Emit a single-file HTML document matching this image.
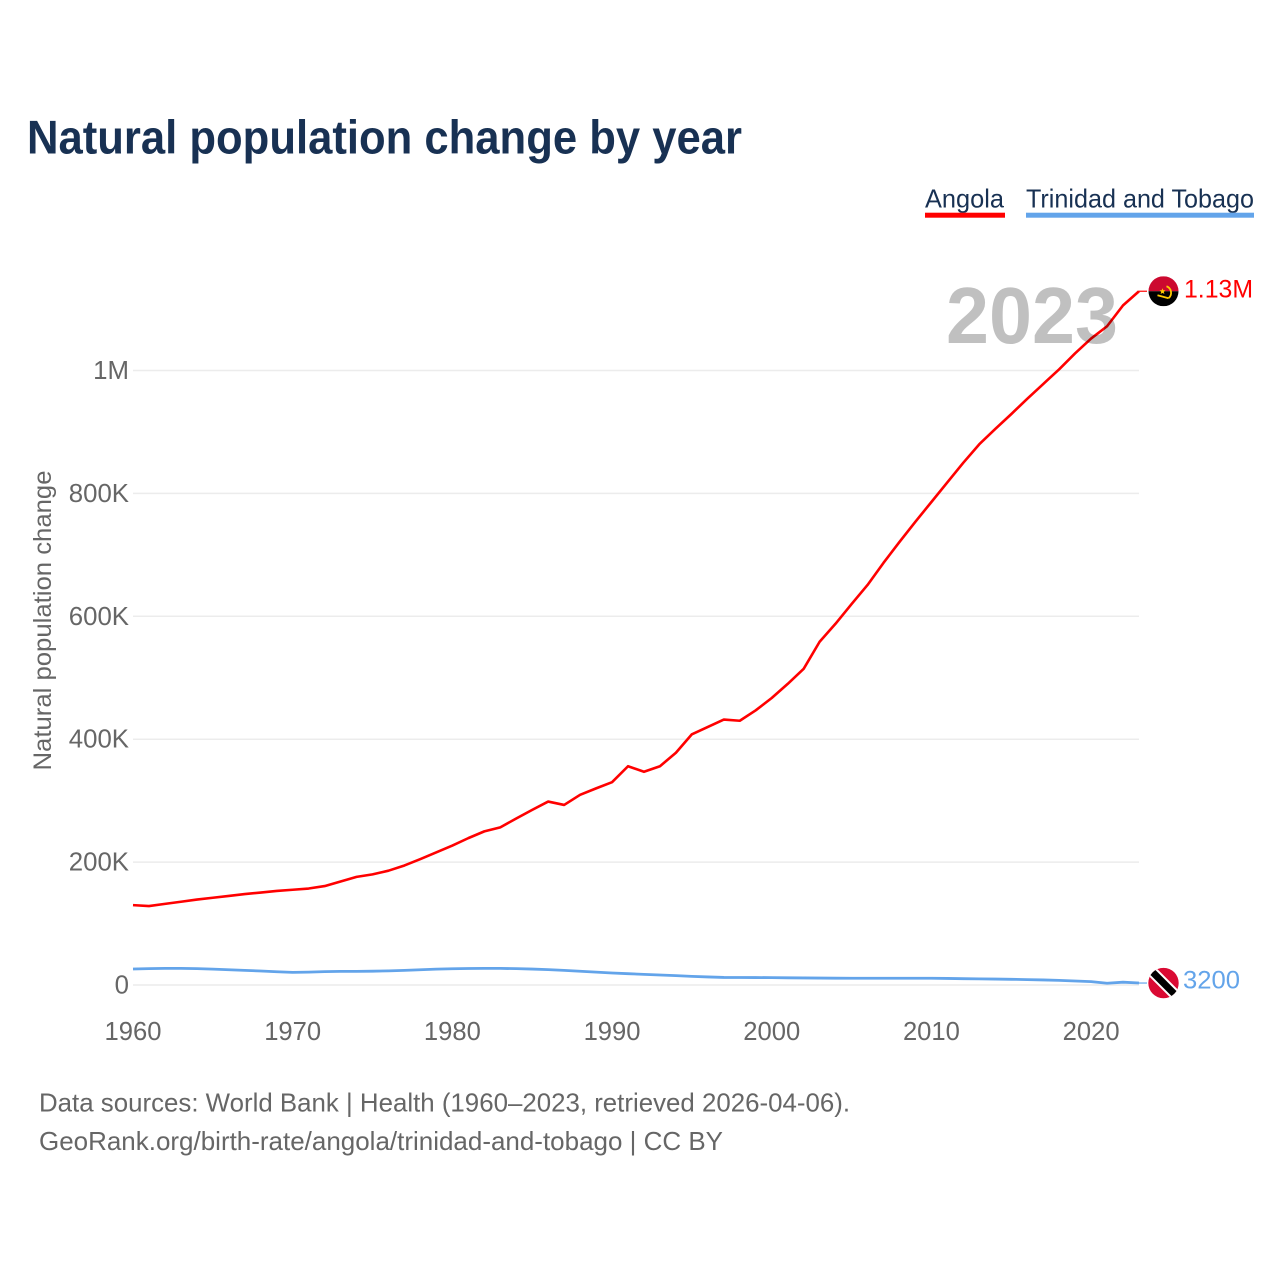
<!DOCTYPE html>
<html lang="en">
<head>
<meta charset="utf-8">
<title>Natural population change by year</title>
<style>
  html, body { margin: 0; padding: 0; background: #fff; }
  svg { display: block; font-family: "Liberation Sans", sans-serif; }
</style>
</head>
<body>
<svg id="chart" xmlns="http://www.w3.org/2000/svg" width="1280" height="1280" viewBox="0 0 1280 1280">
  <rect width="1280" height="1280" fill="#ffffff"/>
  <text x="27" y="153.5" font-size="47" font-weight="700" fill="#183153" textLength="715" lengthAdjust="spacingAndGlyphs">Natural population change by year</text>

  <g>
    <text x="925" y="207.5" font-size="26" fill="#183153" textLength="79" lengthAdjust="spacingAndGlyphs">Angola</text>
    <rect x="925" y="212.7" width="80" height="5" fill="#ff0000"/>
  </g>
  <g>
    <text x="1026" y="207.5" font-size="26" fill="#183153" textLength="228" lengthAdjust="spacingAndGlyphs">Trinidad and Tobago</text>
    <rect x="1026" y="212.7" width="228" height="5" fill="#63a4ea"/>
  </g>

  <g id="grid"></g>
  <g id="yticks"></g>
  <g id="xticks"></g>
  <text transform="translate(51 620.5) rotate(-90)" text-anchor="middle" font-size="25" fill="#666666" textLength="300" lengthAdjust="spacingAndGlyphs">Natural population change</text>

  <g id="series"></g>

  <text x="946" y="343" font-size="80" font-weight="700" fill="#000000" fill-opacity="0.247" textLength="172" lengthAdjust="spacingAndGlyphs">2023</text>

  <g id="flag-angola">
    <clipPath id="clip-ao"><circle cx="0" cy="0" r="15"/></clipPath>
    <g clip-path="url(#clip-ao)">
      <rect x="-15" y="-15" width="30" height="15" fill="#cc092f"/>
      <rect x="-15" y="0" width="30" height="15" fill="#000000"/>
    </g>
    <path d="M3 -5 A7 7 0 0 1 5 7" fill="none" stroke="#ffcb00" stroke-width="1.8"/>
    <path d="M-6 4 L5 7" fill="none" stroke="#ffcb00" stroke-width="1.8"/>
    <path d="M-1 -3 L-0.2 -1 L2 -0.8 L0.3 0.6 L0.9 2.8 L-1 1.6 L-2.9 2.8 L-2.3 0.6 L-4 -0.8 L-1.8 -1 Z" fill="#ffcb00"/>
  </g>
  <g id="flag-tt">
    <clipPath id="clip-tt"><circle cx="0" cy="0" r="15.2"/></clipPath>
    <g clip-path="url(#clip-tt)">
      <rect x="-16" y="-16" width="32" height="32" fill="#da0a33"/>
      <line x1="-16" y1="-16" x2="16" y2="16" stroke="#ffffff" stroke-width="11"/>
      <line x1="-16" y1="-16" x2="16" y2="16" stroke="#000000" stroke-width="7"/>
    </g>
  </g>

  <text id="value-angola" x="1184" font-size="25" fill="#ff0000" textLength="69" lengthAdjust="spacingAndGlyphs"></text>
  <text id="value-tt" x="1183" font-size="25" fill="#63a4ea" textLength="57" lengthAdjust="spacingAndGlyphs"></text>

  <text x="39" y="1111.7" font-size="26" fill="#666666" textLength="811" lengthAdjust="spacingAndGlyphs">Data sources: World Bank | Health (1960–2023, retrieved 2026-04-06).</text>
  <text x="39" y="1150" font-size="26" fill="#666666" textLength="684" lengthAdjust="spacingAndGlyphs">GeoRank.org/birth-rate/angola/trinidad-and-tobago | CC BY</text>
</svg>

<script>
const years = [1960,1961,1962,1963,1964,1965,1966,1967,1968,1969,
  1970,1971,1972,1973,1974,1975,1976,1977,1978,1979,
  1980,1981,1982,1983,1984,1985,1986,1987,1988,1989,
  1990,1991,1992,1993,1994,1995,1996,1997,1998,1999,
  2000,2001,2002,2003,2004,2005,2006,2007,2008,2009,
  2010,2011,2012,2013,2014,2015,2016,2017,2018,2019,
  2020,2021,2022,2023];
const angola = [130000,128500,132000,135500,139000,142000,145000,148000,150500,153000,
  155000,157000,161000,168500,176000,180000,186000,194500,205000,216000,
  227000,239000,250000,256500,271000,285000,298500,293000,309500,320000,
  330000,356000,347000,356000,378000,408000,420000,432000,430000,447000,
  467000,490000,514600,558600,588000,620000,651000,687000,721000,754000,
  786000,818000,850000,880000,905000,929000,954000,978000,1002000,1028000,
  1052000,1072000,1106000,1129000];
const trinidad = [26000,26700,27000,27000,26600,25800,24800,23800,22800,21600,
  20600,21000,21800,22200,22200,22500,23000,23800,24800,25800,
  26500,26900,27100,27000,26600,25900,25000,23800,22400,21000,
  19500,18400,17300,16300,15200,14100,13100,12300,12200,12100,
  12000,11700,11500,11300,11100,11000,11000,11000,11000,11000,
  11000,10700,10300,10000,9700,9300,8800,8200,7500,6500,
  5500,2800,4600,3200];
const yTickValues = [0,200000,400000,600000,800000,1000000];
const yTickLabels = ['0','200K','400K','600K','800K','1M'];
const xTickValues = [1960,1970,1980,1990,2000,2010,2020];
const xTickLabels = ['1960','1970','1980','1990','2000','2010','2020'];
const angolaValueLabel = '1.13M';
const trinidadValueLabel = '3200';

const NS = 'http://www.w3.org/2000/svg';
const xAxis = function (year) { return 133 + (year - 1960) * (1139 - 133) / 63; };
const yAxis = function (value) { return 985 - value * 614.5 / 1000000; };

function make(tag, parent, props, text) {
  const el = document.createElementNS(NS, tag);
  Object.keys(props).forEach(function (k) { el.setAttribute(k, props[k]); });
  if (text !== undefined) el.textContent = text;
  parent.appendChild(el);
  return el;
}

const grid = document.getElementById('grid');
const yticks = document.getElementById('yticks');
const xticks = document.getElementById('xticks');
const series = document.getElementById('series');

yTickValues.forEach(function (v, i) {
  const line = make('line', grid, { x1: xAxis(1960), x2: xAxis(2023), y1: yAxis(v), y2: yAxis(v), stroke: '#ececec', 'stroke-width': 1.5 });
  
  
  const label = make('text', yticks, { x: 129, y: yAxis(v) + 8.5, 'text-anchor': 'end', 'font-size': 25.8, fill: '#666666' }, yTickLabels[i]);
  
  
});

xTickValues.forEach(function (v, i) {
  const label = make('text', xticks, { x: xAxis(v), y: 1040, 'text-anchor': 'middle', 'font-size': 25.6, fill: '#666666' }, xTickLabels[i]);
  
  
});

function pathFor(values) {
  return values.map(function (v, i) {
    return (i ? 'L' : 'M') + xAxis(years[i]).toFixed(2) + ' ' + yAxis(v).toFixed(2);
  }).join(' ');
}

const trinidadLine = make('path', series, { d: pathFor(trinidad), fill: 'none', stroke: '#63a4ea', 'stroke-width': 2.8, 'stroke-linejoin': 'round' });



const angolaLine = make('path', series, { d: pathFor(angola), fill: 'none', stroke: '#ff0000', 'stroke-width': 2.6, 'stroke-linejoin': 'round' });



const lastAngolaY = yAxis(angola[angola.length - 1]);
const lastTrinidadY = yAxis(trinidad[trinidad.length - 1]);

const angolaConnector = make('line', series, { x1: xAxis(2023), x2: 1147, y1: lastAngolaY, y2: lastAngolaY, stroke: '#ff0000', 'stroke-width': 1.2 });



const trinidadConnector = make('line', series, { x1: xAxis(2023), x2: 1147, y1: lastTrinidadY, y2: lastTrinidadY, stroke: '#63a4ea', 'stroke-width': 1.2 });



document.getElementById('flag-angola').setAttribute('transform', 'translate(1163.5 ' + lastAngolaY + ')');
document.getElementById('flag-tt').setAttribute('transform', 'translate(1163.5 ' + lastTrinidadY + ')');

const angolaValue = document.getElementById('value-angola');
angolaValue.setAttribute('y', lastAngolaY + 6.5);
angolaValue.textContent = angolaValueLabel;
const trinidadValue = document.getElementById('value-tt');
trinidadValue.setAttribute('y', lastTrinidadY + 5.5);
trinidadValue.textContent = trinidadValueLabel;
</script>
</body>
</html>
